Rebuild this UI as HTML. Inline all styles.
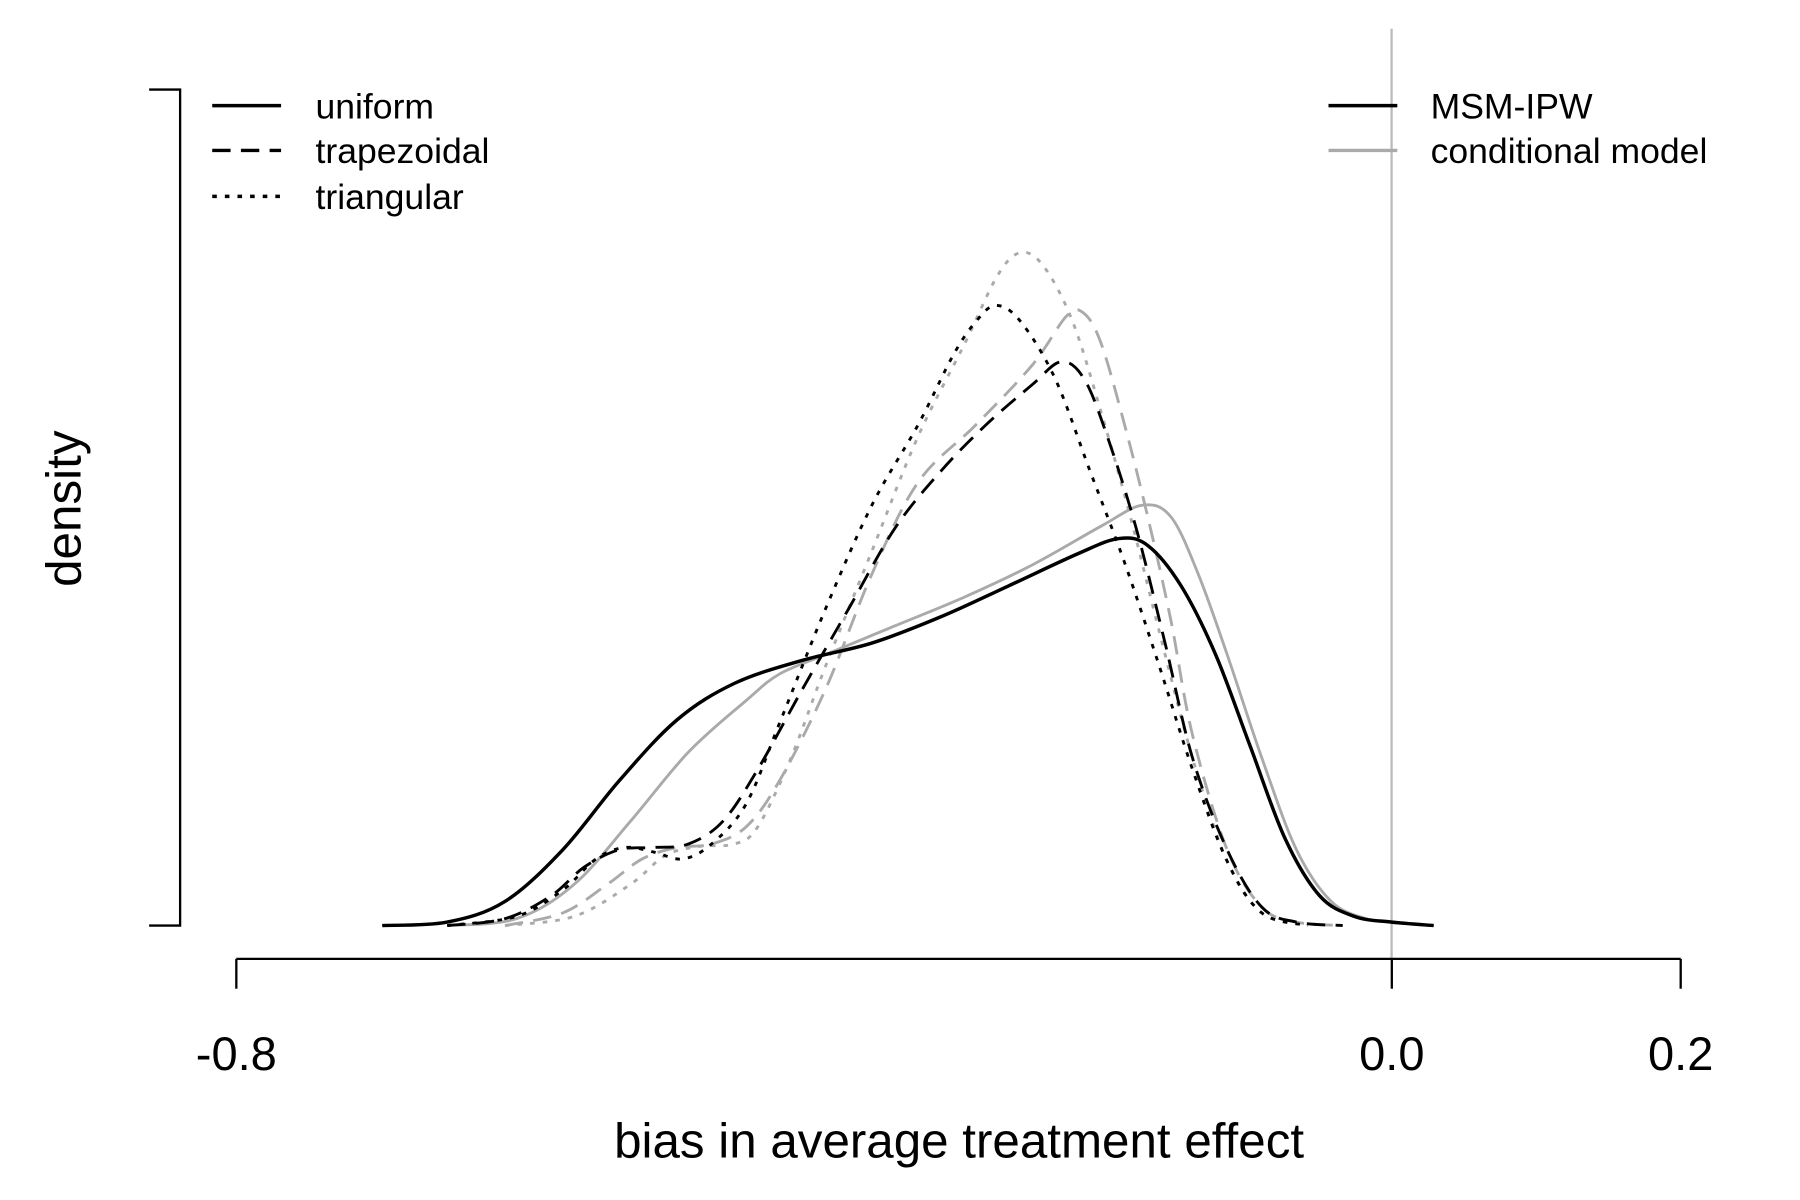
<!DOCTYPE html>
<html><head><meta charset="utf-8"><style>
html,body{margin:0;padding:0;background:#fff}
svg{display:block}
text{font-family:"Liberation Sans",Arial,sans-serif;fill:#000}
</style></head><body>
<svg id="chart" width="1800" height="1200" viewBox="0 0 1569 1045" preserveAspectRatio="none" xmlns="http://www.w3.org/2000/svg">
<rect width="1569" height="1045" fill="#fff"/>
<line x1="1213" y1="25" x2="1213" y2="835" stroke="#bbb" stroke-width="2"/>
<g id="curves"></g>
<g id="xaxis"></g>
<g>
<polyline points="130,78 157,78 157,806 130,806" fill="none" stroke="#000" stroke-width="2"/>
</g>
<text transform="translate(70,443) rotate(-90)" font-size="43" text-anchor="middle">density</text>
<text x="836" y="1008" font-size="43" text-anchor="middle">bias in average treatment effect</text>
<g>
<line x1="185" y1="92" x2="245" y2="92" stroke="#000" stroke-width="3"/>
<text x="275" y="103" font-size="31">uniform</text>
<line x1="185" y1="131" x2="245" y2="131" stroke="#000" stroke-width="3" stroke-dasharray="16,9"/>
<text x="275" y="142" font-size="31">trapezoidal</text>
<line x1="185" y1="171" x2="245" y2="171" stroke="#000" stroke-width="3" stroke-dasharray="4,7"/>
<text x="275" y="182" font-size="31">triangular</text>
</g>
<g>
<line x1="1158" y1="92" x2="1218" y2="92" stroke="#000" stroke-width="3"/>
<text x="1247" y="103" font-size="31">MSM-IPW</text>
<line x1="1158" y1="131" x2="1218" y2="131" stroke="#aaa" stroke-width="3"/>
<text x="1247" y="142" font-size="31">conditional model</text>
</g>
</svg>
<script>
const xTicks=[-0.8,0.0,0.2];
const xTickLabels=["-0.8","0.0","0.2"];
const msmUniformX=[-0.699,-0.654,-0.614,-0.574,-0.535,-0.495,-0.455,-0.408,-0.360,-0.312,-0.265,-0.217,-0.189,-0.169,-0.146,-0.122,-0.098,-0.074,-0.050,-0.026,0.000,0.029];
const msmUniformY=[0,0.03,0.21,0.66,1.26,1.79,2.11,2.31,2.46,2.69,2.96,3.24,3.37,3.31,2.96,2.36,1.56,0.76,0.26,0.08,0.03,0];
const condUniformX=[-0.654,-0.606,-0.566,-0.527,-0.487,-0.447,-0.424,-0.392,-0.344,-0.296,-0.249,-0.201,-0.173,-0.153,-0.134,-0.114,-0.090,-0.066,-0.042,-0.018,0.000,0.029];
const condUniformY=[0,0.06,0.36,0.91,1.51,1.96,2.19,2.36,2.61,2.86,3.14,3.48,3.66,3.56,3.06,2.36,1.46,0.66,0.21,0.06,0.03,0];
const msmTrapX=[-0.654,-0.614,-0.582,-0.559,-0.535,-0.511,-0.487,-0.463,-0.439,-0.408,-0.376,-0.344,-0.312,-0.281,-0.249,-0.229,-0.213,-0.197,-0.177,-0.157,-0.138,-0.114,-0.090,-0.066,-0.034];
const msmTrapY=[0,0.06,0.26,0.51,0.66,0.68,0.71,0.91,1.36,2.06,2.76,3.46,3.96,4.36,4.71,4.91,4.76,4.26,3.46,2.46,1.46,0.66,0.16,0.03,0];
const msmTriX=[-0.654,-0.606,-0.574,-0.551,-0.531,-0.511,-0.491,-0.471,-0.447,-0.424,-0.392,-0.360,-0.328,-0.304,-0.288,-0.274,-0.257,-0.233,-0.209,-0.185,-0.161,-0.138,-0.114,-0.090,-0.058];
const msmTriY=[0,0.08,0.31,0.58,0.68,0.64,0.58,0.71,1.06,1.76,2.76,3.66,4.36,4.96,5.26,5.40,5.26,4.76,3.96,3.16,2.26,1.36,0.56,0.11,0];
const condTrapX=[-0.614,-0.574,-0.543,-0.519,-0.495,-0.471,-0.447,-0.424,-0.392,-0.360,-0.328,-0.288,-0.249,-0.225,-0.213,-0.201,-0.185,-0.169,-0.153,-0.138,-0.114,-0.090,-0.066,-0.034];
const condTrapY=[0,0.11,0.36,0.58,0.68,0.71,0.86,1.26,2.06,3.06,3.86,4.36,4.88,5.31,5.33,5.06,4.36,3.56,2.66,1.66,0.66,0.16,0.03,0];
const condTriX=[-0.614,-0.566,-0.527,-0.503,-0.479,-0.455,-0.439,-0.416,-0.392,-0.360,-0.328,-0.296,-0.273,-0.257,-0.241,-0.221,-0.201,-0.181,-0.161,-0.138,-0.114,-0.090,-0.058];
const condTriY=[0,0.08,0.36,0.61,0.69,0.71,0.86,1.46,2.26,3.26,4.26,5.06,5.66,5.86,5.74,5.26,4.46,3.56,2.56,1.46,0.56,0.11,0];

const NS="http://www.w3.org/2000/svg";
function sx(v){return 206+(v+0.8)*1259;}
function sy(d){return 806-d*100;}
function pathFrom(xs,ys){
  const p=xs.map((x,i)=>[sx(x),sy(ys[i])]);
  let d="M"+p[0][0]+","+p[0][1];
  for(let i=0;i<p.length-1;i++){
    const p0=p[Math.max(0,i-1)],p1=p[i],p2=p[i+1],p3=p[Math.min(p.length-1,i+2)];
    const c1=[p1[0]+(p2[0]-p0[0])/6,p1[1]+(p2[1]-p0[1])/6];
    const c2=[p2[0]-(p3[0]-p1[0])/6,p2[1]-(p3[1]-p1[1])/6];
    d+=" C"+c1[0]+","+c1[1]+" "+c2[0]+","+c2[1]+" "+p2[0]+","+p2[1];
  }
  return d;
}
const g=document.getElementById("curves");
function addCurve(xs,ys,color,w,dash,name){
  const el=document.createElementNS(NS,"path");
  el.setAttribute("d",pathFrom(xs,ys));
  el.setAttribute("fill","none");
  el.setAttribute("stroke",color);
  el.setAttribute("stroke-width",w);
  if(dash)el.setAttribute("stroke-dasharray",dash);
  
  
  g.appendChild(el);
}
addCurve(condTriX,condTriY,"#aaa",2.5,"4,7","conditional-triangular-curve");
addCurve(condTrapX,condTrapY,"#aaa",2.5,"16,9","conditional-trapezoidal-curve");
addCurve(condUniformX,condUniformY,"#aaa",2.5,null,"conditional-uniform-curve");
addCurve(msmTriX,msmTriY,"#000",2.5,"4,7","msm-triangular-curve");
addCurve(msmTrapX,msmTrapY,"#000",2.5,"16,9","msm-trapezoidal-curve");
addCurve(msmUniformX,msmUniformY,"#000",3,null,"msm-uniform-curve");

const ax=document.getElementById("xaxis");
const base=document.createElementNS(NS,"line");
base.setAttribute("x1",sx(xTicks[0]));base.setAttribute("x2",sx(xTicks[xTicks.length-1]));
base.setAttribute("y1",835);base.setAttribute("y2",835);
base.setAttribute("stroke","#000");base.setAttribute("stroke-width",2);


ax.appendChild(base);
xTicks.forEach((t,i)=>{
  const tk=document.createElementNS(NS,"line");
  tk.setAttribute("x1",sx(t));tk.setAttribute("x2",sx(t));
  tk.setAttribute("y1",835);tk.setAttribute("y2",861);
  tk.setAttribute("stroke","#000");tk.setAttribute("stroke-width",2);
  
  
  ax.appendChild(tk);
  const lb=document.createElementNS(NS,"text");
  lb.setAttribute("x",sx(t));lb.setAttribute("y",932);
  lb.setAttribute("font-size",41);lb.setAttribute("text-anchor","middle");
  lb.textContent=xTickLabels[i];
  
  
  ax.appendChild(lb);
});
</script>
</body></html>
